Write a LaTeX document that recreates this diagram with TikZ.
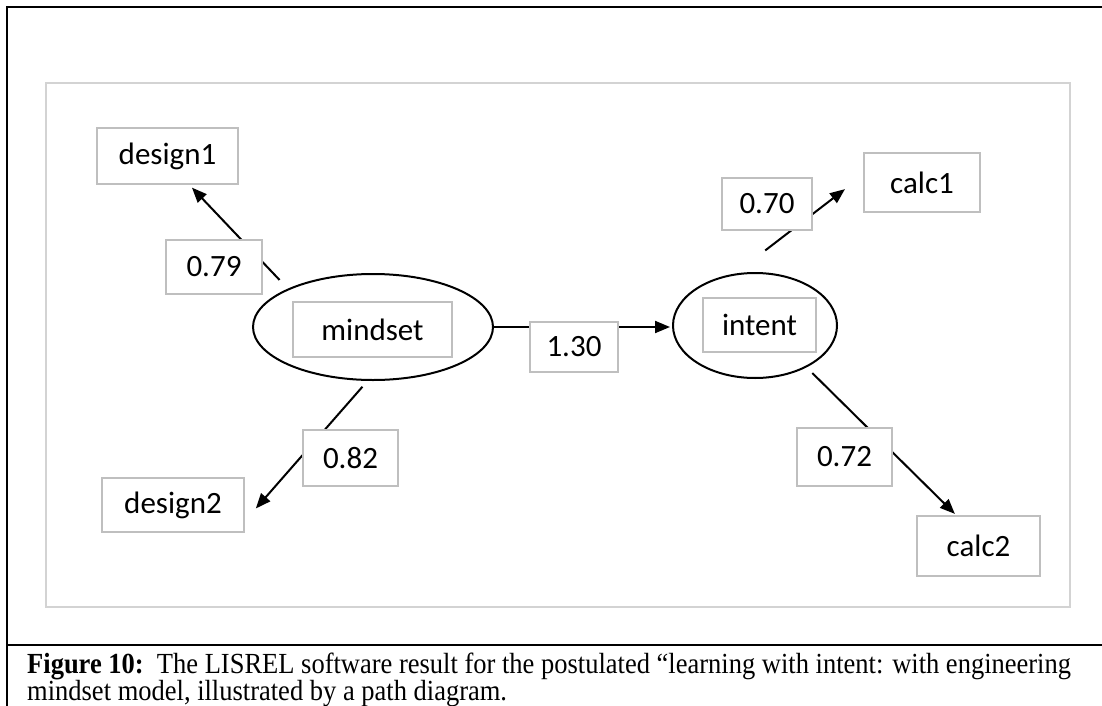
\documentclass[tikz,border=0pt]{standalone}
\usepackage{fontspec}
\setmainfont{Liberation Serif}
\newfontfamily\diagfont{Carlito}
\usetikzlibrary{arrows.meta,shapes.geometric}
\definecolor{boxgray}{RGB}{191,191,191}
\definecolor{framegray}{RGB}{211,211,211}
\newcommand{\captall}[1]{\scalebox{1}[1.1]{#1}}
\tikzset{
  obs/.style={draw=boxgray,line width=1.6pt,fill=white,inner sep=0pt,outer sep=0pt,
    minimum height=56pt,font=\diagfont\fontsize{31}{34}\selectfont},
  coef/.style={obs},
  latent/.style={draw,ellipse,line width=2pt,inner sep=0pt,outer sep=0pt},
  link/.style={line width=2pt,-{Triangle[length=15pt,width=12pt]}},
  captxt/.style={anchor=base west,inner sep=0pt,font=\fontsize{26.5}{28}\selectfont}
}
\begin{document}
\begin{tikzpicture}[x=1pt,y=-1pt]
  \useasboundingbox (0,0) rectangle (1102,706);

  \draw[line width=2.8pt] (7,706) -- (7,7) -- (1102,7);
  \draw[line width=2.6pt] (7,645) -- (1102,645);
  \draw[framegray,line width=2.7pt] (46,83) rectangle (1070,607);

  \node[latent,minimum width=240pt,minimum height=106pt](mindset)at(373,327){};
  \node[obs,minimum width=159pt,minimum height=55pt](mindsetlbl)at(372.5,329.5){mindset};
  \node[latent,minimum width=164pt,minimum height=105pt](intent)at(755,325.5){};
  \node[obs,minimum width=113pt,minimum height=54pt](intentlbl)at(759.5,325){intent};

  \node[obs,minimum width=141pt](design1)at(167.5,156){design1};
  \node[obs,minimum width=142pt,minimum height=54pt](design2)at(173,505){design2};
  \node[obs,minimum width=116pt,minimum height=59pt](calc1)at(922,182.5){calc1};
  \node[obs,minimum width=123pt,minimum height=60pt](calc2)at(978.5,546){calc2};

  \draw[link,shorten <=13pt,shorten >=5pt](mindset.156)--([xshift=21pt]design1.south);
  \draw[link,shorten <=9pt,shorten >=18pt](mindset.265)--([yshift=-17pt]design2.east);
  \draw[link,shorten >=3pt](mindset.east)--(intent.west |- mindset.east);
  \draw[link,shorten <=40pt,shorten >=24pt](intent.113)--([yshift=8pt]calc1.west);
  \draw[link,shorten <=9pt,shorten >=3pt](intent.321)--([xshift=-21.5pt]calc2.north);

  \node[coef,minimum width=96pt,minimum height=54pt](c79)at(214,267){0.79};
  \node[coef,minimum width=95pt](c82)at(350.5,458){0.82};
  \node[coef,minimum width=88pt,minimum height=50pt](c130)at(574,347){1.30};
  \node[coef,minimum width=90pt,minimum height=52pt](c70)at(767,204){0.70};
  \node[coef,minimum width=95pt,minimum height=58pt](c72)at(844.5,457){0.72};

  \node[captxt](cap1)at(27,673){\captall{\textbf{Figure 10:}\ \ The LISREL software result for the postulated “learning with intent: with engineering}};
  \node[captxt](cap2)at(27,700){\captall{mindset model, illustrated by a path diagram.}};
\end{tikzpicture}
\end{document}
